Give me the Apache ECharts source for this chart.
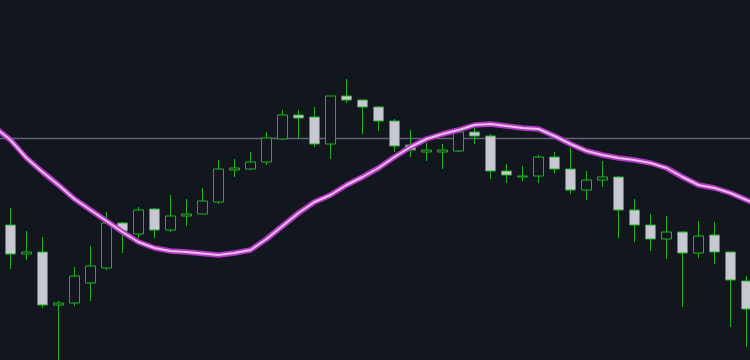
<!DOCTYPE html>
<html>
<head>
<meta charset="utf-8">
<script src="https://cdn.jsdelivr.net/npm/echarts@6/dist/echarts.min.js"></script>
<style>
html,body{margin:0;padding:0;background:#12161f;}
#chart{width:750px;height:360px;}
</style>
</head>
<body>
<div id="chart"></div>
<script>
// Categories (bar index)
const categories = ['0','1','2','3','4','5','6','7','8','9','10','11','12','13','14','15','16','17','18','19','20','21','22','23','24','25','26','27','28','29','30','31','32','33','34','35','36','37','38','39','40','41','42','43','44','45','46','47','48'];
// Candles: open, close, low, high ('-' = not visible)
const opens  = [17.0,17.5,14.6,14.8, 9.5, 9.7,11.7,13.2,17.7,16.6,19.1,17.0,18.4,18.6,19.8,23.0,23.1,23.8,26.1,28.5,28.3,25.6,30.4,30.0,29.3,27.9,25.5,24.8,24.8,24.9,26.8,26.4,22.9,22.3,22.4,24.3,23.1,21.0,22.0,22.3,19.0,17.5,16.1,16.8,14.7,16.5,14.8,11.9,'-'];
const closes = [18.8,14.6,14.8, 9.5, 9.7,12.4,13.4,17.7,16.9,19.0,17.0,18.4,18.6,19.9,23.1,23.2,23.8,26.2,28.5,28.2,25.6,30.4,30.0,29.3,27.9,25.4,25.0,25.0,25.0,26.8,26.4,22.9,22.5,22.4,24.3,23.1,21.0,22.0,22.3,19.0,17.5,16.1,16.8,14.7,16.4,14.8,12.0, 9.1,'-'];
const lows   = [16.8,13.1,14.0, 9.2, 3.5, 9.4, 9.9,13.0,14.7,16.2,16.2,16.8,17.4,18.6,19.6,22.3,23.0,23.5,26.0,26.2,25.3,24.1,29.7,26.6,26.9,24.8,24.3,23.9,23.1,24.8,25.6,22.1,21.7,21.9,21.7,22.7,20.6,20.0,21.3,16.2,15.8,14.9,14.1, 9.3,14.2,13.6, 7.3, 5.3,'-'];
const highs  = [19.5,19.2,16.9,16.3, 9.9,13.3,15.4,18.8,17.8,19.3,19.2,20.5,20.1,21.2,24.0,24.1,24.8,26.8,29.0,29.0,29.3,30.4,32.1,30.0,29.4,28.1,27.0,25.7,25.6,27.2,27.2,26.6,23.6,23.4,24.5,24.8,25.2,22.9,23.9,22.4,20.1,18.6,18.4,16.9,17.9,17.8,14.8,12.4,'-'];
// Moving average
const maValues = [27.3,26.0,24.2,22.8,21.5,20.1,19.0,17.9,16.8,15.8,15.2,14.9,14.8,14.65,14.5,14.7,15.0,16.1,17.4,18.7,19.8,20.5,21.5,22.3,23.2,24.3,25.3,26.1,26.6,27.0,27.5,27.6,27.4,27.2,27.1,26.4,25.6,24.9,24.5,24.2,24.0,23.7,23.2,22.3,21.5,21.2,20.7,20.0,19.4];
// Reference level
const refLevel = 26.2;

const candleData = categories.map((c, i) => [opens[i], closes[i], lows[i], highs[i]]);

const bg = '#12161f';
const chart = echarts.init(document.getElementById('chart'), null, {renderer: 'canvas'});
chart.setOption({
  backgroundColor: bg,
  animation: false,
  grid: {left: -13.5, right: -20.5, top: 0, bottom: 0, containLabel: false, outerBoundsMode: 'none'},
  xAxis: {
    type: 'category', data: categories, boundaryGap: true,
    show: false
  },
  yAxis: {
    type: 'value', min: 4, max: 40, show: false, splitLine: {show: false}
  },
  series: [
    {
      type: 'candlestick',
      data: candleData,
      barWidth: 10,
      z: 2,
      itemStyle: {
        color: bg,
        color0: '#c6cad0',
        borderColor: '#1eb41e',
        borderColor0: '#1eb41e',
        borderColorDoji: '#1eb41e',
        borderWidth: 1
      },
      markLine: {
        silent: true,
        symbol: ['none', 'none'],
        label: {show: false},
        z: 1,
        lineStyle: {color: '#5c6676', width: 1.3, type: 'solid'},
        data: [{yAxis: refLevel}]
      }
    },
    {
      type: 'line',
      data: maValues,
      symbol: 'none',
      z: 3,
      lineStyle: {color: '#b437c4', width: 5.5},
      silent: true
    },
    {
      type: 'line',
      data: maValues,
      symbol: 'none',
      z: 4,
      lineStyle: {color: '#e6c0e8', width: 2},
      silent: true
    }
  ]
});
</script>
</body>
</html>
